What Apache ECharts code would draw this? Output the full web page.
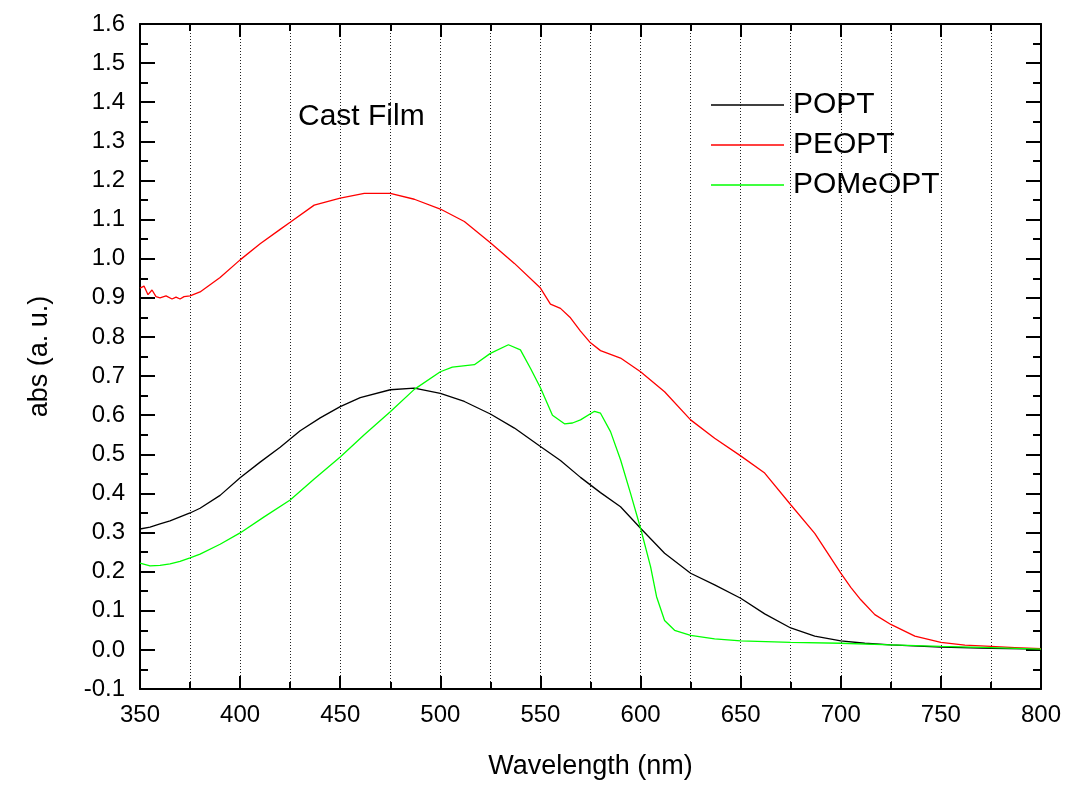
<!DOCTYPE html>
<html>
<head>
<meta charset="utf-8">
<title>Cast Film absorbance</title>
<script src="https://cdn.jsdelivr.net/npm/echarts@6/dist/echarts.min.js"></script>
<style>
  html, body { margin: 0; padding: 0; background: #fff; }
  #chart { width: 1066px; height: 785px; }
</style>
</head>
<body>
<div id="chart"></div>
<script>
// values (wavelength in nm, absorbance in a.u.)
var seriesNames = ["POPT", "PEOPT", "POMeOPT"];
var seriesColors = ["#000000", "#ff0000", "#00ff00"];

var poptNm = [350,355,360,365,370,375,380,390,400,410,420,425,430,440,450,460,475,487,500,512,525,537,550,560,570,580,590,600,612,625,637,650,662,675,687,700,712,725,750,775,800];
var poptAbs = [0.309,0.314,0.322,0.33,0.34,0.35,0.362,0.395,0.44,0.48,0.518,0.539,0.56,0.593,0.622,0.645,0.665,0.669,0.656,0.635,0.603,0.567,0.52,0.484,0.441,0.402,0.366,0.311,0.247,0.196,0.166,0.132,0.092,0.056,0.035,0.023,0.017,0.013,0.007,0.004,0.002];

var peoptNm = [350,352,354,356,358,360,363,366,368,370,372,375,380,390,400,410,420,425,437,450,462,475,487,500,512,525,537,550,555,560,565,570,575,580,590,600,612,625,637,650,662,675,687,700,705,710,717,725,737,750,762,775,787,800];
var peoptAbs = [0.925,0.93,0.908,0.92,0.903,0.9,0.905,0.897,0.902,0.897,0.903,0.905,0.915,0.952,0.997,1.038,1.075,1.093,1.137,1.155,1.167,1.167,1.152,1.127,1.095,1.041,0.988,0.925,0.884,0.873,0.849,0.815,0.785,0.765,0.746,0.711,0.66,0.588,0.541,0.496,0.452,0.371,0.298,0.196,0.16,0.128,0.09,0.065,0.035,0.019,0.012,0.009,0.006,0.003];

var pomeoptNm = [350,355,360,365,370,375,380,390,400,412,425,437,450,462,475,487,500,506,517,525,534,540,545,550,556,562,566,570,577,580,585,590,595,600,605,608,612,617,625,637,650,675,700,725,750,775,800];
var pomeoptAbs = [0.222,0.215,0.216,0.22,0.226,0.235,0.245,0.27,0.299,0.34,0.383,0.437,0.493,0.55,0.609,0.666,0.711,0.723,0.729,0.758,0.78,0.767,0.72,0.67,0.6,0.578,0.58,0.588,0.61,0.605,0.558,0.486,0.4,0.311,0.213,0.136,0.075,0.05,0.037,0.028,0.023,0.019,0.017,0.013,0.009,0.006,0.002];

var xTicks = [350, 800, 50];   // min, max, step
var yTicks = [-0.1, 1.6, 0.1];

function pairs(xs, ys) {
  var out = [];
  for (var i = 0; i < xs.length; i++) out.push([xs[i], ys[i]]);
  return out;
}

var font = "'Liberation Sans', Arial, sans-serif";
var axisLine = { show: true, onZero: false, lineStyle: { color: "#000", width: 2 } };
var dotted = { show: true, lineStyle: { color: "#222", width: 1, type: [1, 2] } };

function xAxis(pos, labels) {
  return {
    type: "value", position: pos,
    min: xTicks[0], max: xTicks[1], interval: xTicks[2],
    axisLine: axisLine,
    axisTick: { inside: true, length: 13, lineStyle: { width: 2, color: "#000" } },
    minorTick: { show: true, splitNumber: 2, length: 7, lineStyle: { width: 2, color: "#000" } },
    splitLine: labels ? dotted : { show: false },
    minorSplitLine: labels ? dotted : { show: false },
    axisLabel: { show: labels, margin: 14, fontSize: 24, color: "#000", fontFamily: font },
    name: labels ? "Wavelength (nm)" : "",
    nameLocation: "middle", nameGap: 64,
    nameTextStyle: { fontSize: 27, color: "#000", fontFamily: font }
  };
}

function yAxis(pos, labels) {
  return {
    type: "value", position: pos,
    min: yTicks[0], max: yTicks[1], interval: yTicks[2],
    axisLine: axisLine,
    axisTick: { inside: true, length: 15, lineStyle: { width: 2, color: "#000" } },
    minorTick: { show: true, splitNumber: 2, length: 8, lineStyle: { width: 2, color: "#000" } },
    splitLine: { show: false },
    axisLabel: {
      show: labels, margin: 15, fontSize: 24, color: "#000", fontFamily: font,
      formatter: function (v) { return v.toFixed(1); }
    },
    name: labels ? "abs (a. u.)" : "",
    nameLocation: "middle", nameGap: 87,
    nameTextStyle: { fontSize: 27, color: "#000", fontFamily: font }
  };
}

var allData = [pairs(poptNm, poptAbs), pairs(peoptNm, peoptAbs), pairs(pomeoptNm, pomeoptAbs)];

var chart = echarts.init(document.getElementById("chart"));
chart.setOption({
  animation: false,
  backgroundColor: "#fff",
  grid: { left: 140, right: 25, top: 24, bottom: 96 },
  xAxis: [xAxis("bottom", true), xAxis("top", false)],
  yAxis: [yAxis("left", true), yAxis("right", false)],
  legend: {
    orient: "vertical", left: 711, top: 90, padding: 0,
    icon: "rect", itemWidth: 73, itemHeight: 1.5, itemGap: 10,
    textStyle: { fontSize: 30, color: "#000", fontFamily: font, padding: [0, 0, 0, 4] },
    data: seriesNames
  },
  graphic: [{
    type: "text", x: 298, y: 117,
    style: { text: "Cast Film", font: "30px " + font, fill: "#000", verticalAlign: "middle" }
  }],
  series: seriesNames.map(function (name, i) {
    return {
      name: name, type: "line", data: allData[i],
      showSymbol: false, smooth: false,
      color: seriesColors[i],
      lineStyle: { color: seriesColors[i], width: 1.3 }
    };
  })
});
</script>
</body>
</html>
